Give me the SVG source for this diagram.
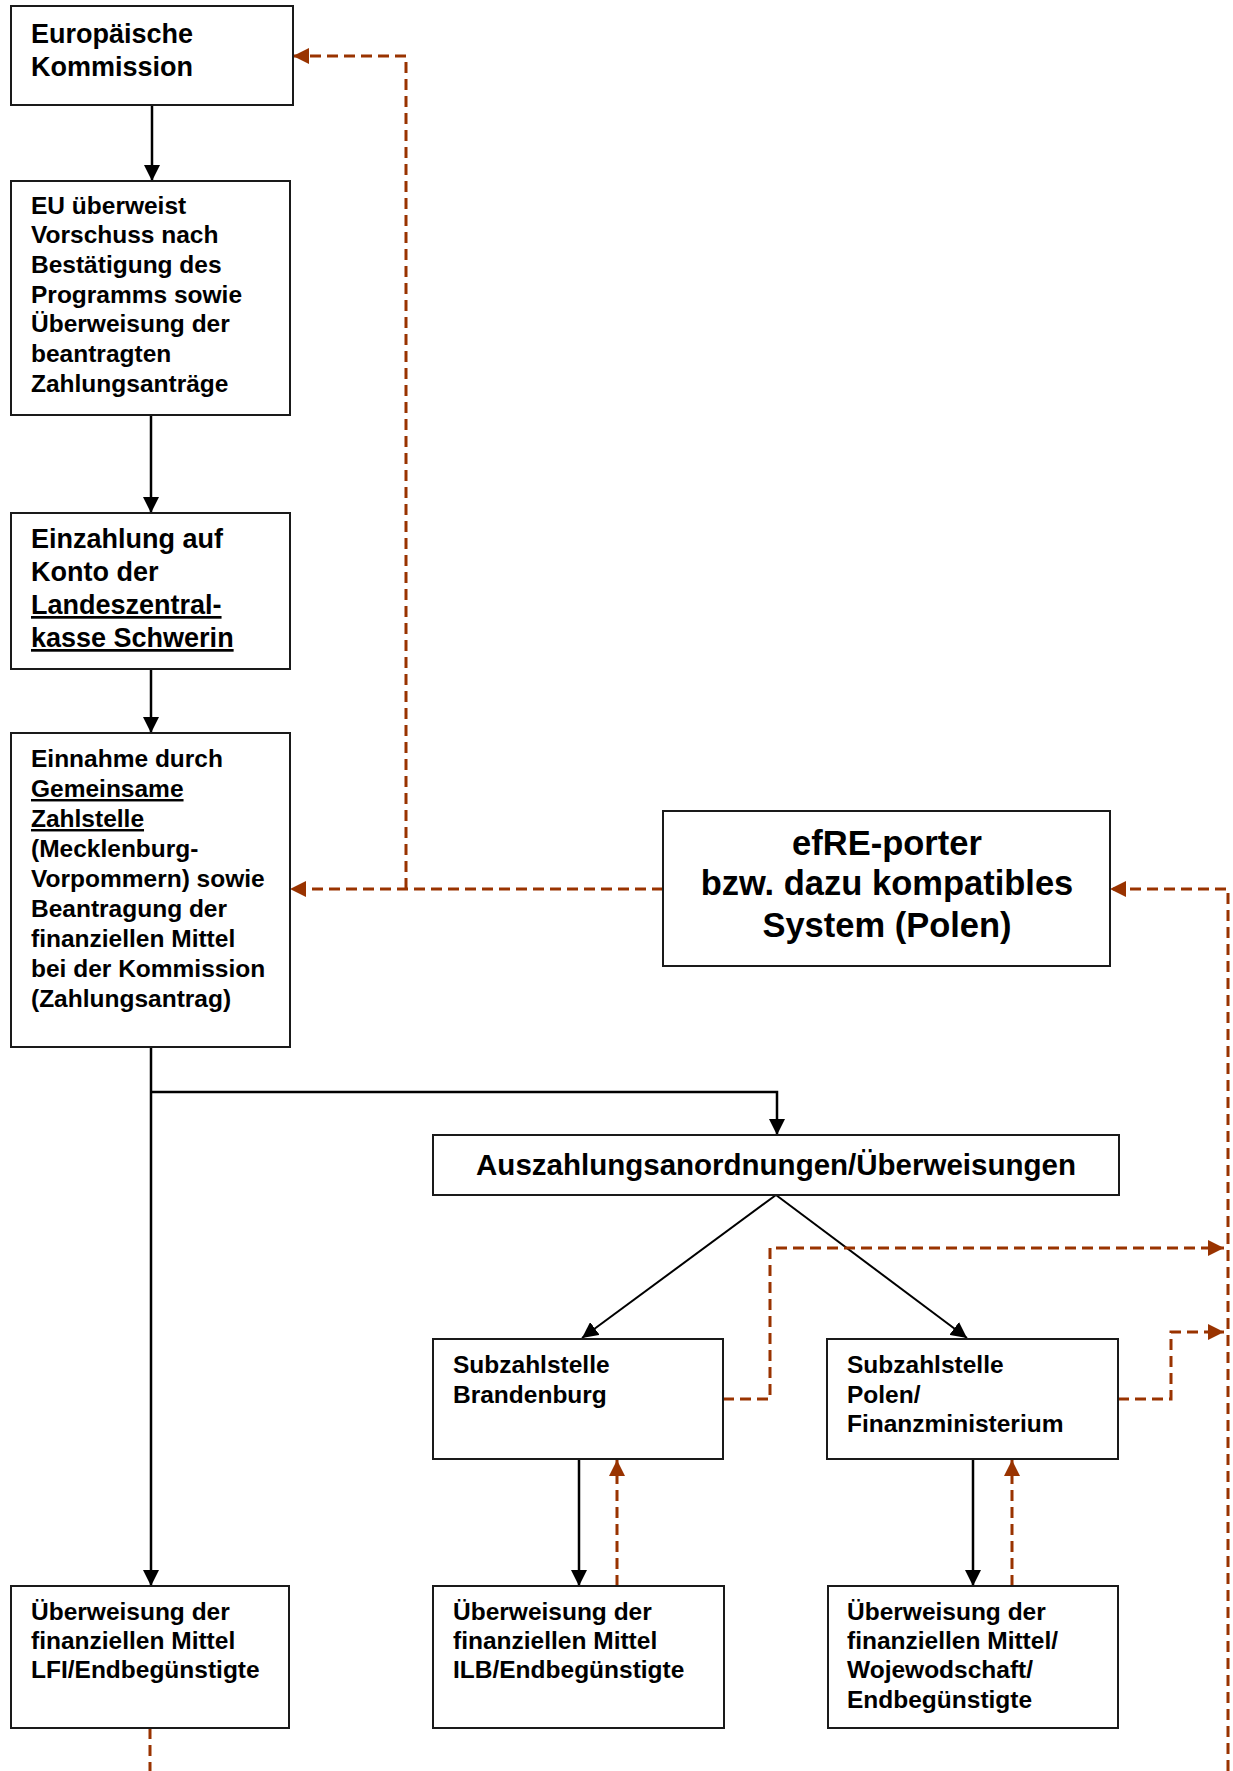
<svg xmlns="http://www.w3.org/2000/svg" width="1233" height="1771" viewBox="0 0 1233 1771">
<style>
  .box { fill: #ffffff; stroke: #1a1a1a; stroke-width: 2; }
  .t { font-family: "Liberation Sans", Arial, sans-serif; font-weight: bold; fill: #000000; }
  .s245 { font-size: 24.5px; }
  .s27 { font-size: 27px; }
  .s29 { font-size: 29.5px; }
  .s34 { font-size: 34.5px; }
  .u { text-decoration: underline; }
  .solid { fill: none; stroke: #000000; stroke-width: 2.5; }
  .diag { fill: none; stroke: #000000; stroke-width: 2; }
  .dash { fill: none; stroke: #993300; stroke-width: 3; stroke-dasharray: 11 6; }
</style>
<defs>
  <marker id="ab" markerUnits="userSpaceOnUse" markerWidth="16" markerHeight="16" viewBox="0 0 16 16" refX="16" refY="8" orient="auto">
    <path d="M0,0 L16,8 L0,16 z" fill="#000000"/>
  </marker>
  <marker id="ar" markerUnits="userSpaceOnUse" markerWidth="16" markerHeight="16" viewBox="0 0 16 16" refX="16" refY="8" orient="auto">
    <path d="M0,0 L16,8 L0,16 z" fill="#993300"/>
  </marker>
</defs>
<rect width="1233" height="1771" fill="#ffffff"/>

<g id="connectors">
  <path class="solid" d="M152,105 V181" marker-end="url(#ab)"/>
  <path class="solid" d="M151,415 V513" marker-end="url(#ab)"/>
  <path class="solid" d="M151,669 V733" marker-end="url(#ab)"/>
  <path class="solid" d="M151,1047 V1586" marker-end="url(#ab)"/>
  <path class="solid" d="M151,1092 H777 V1135" marker-end="url(#ab)"/>
  <path class="diag" d="M776,1195 L582,1338" marker-end="url(#ab)"/>
  <path class="diag" d="M776,1195 L967,1338" marker-end="url(#ab)"/>
  <path class="solid" d="M579,1459 V1586" marker-end="url(#ab)"/>
  <path class="solid" d="M973,1459 V1586" marker-end="url(#ab)"/>

  <path class="dash" d="M663,889 H290" marker-end="url(#ar)"/>
  <path class="dash" d="M406,889 V56 H293" marker-end="url(#ar)"/>
  <path class="dash" d="M1228,1771 V889 H1110" marker-end="url(#ar)"/>
  <path class="dash" d="M723,1399 H770 V1248 H1224" marker-end="url(#ar)"/>
  <path class="dash" d="M1118,1399 H1171 V1332 H1224" marker-end="url(#ar)"/>
  <path class="dash" d="M617,1586 V1460" marker-end="url(#ar)"/>
  <path class="dash" d="M1012,1586 V1460" marker-end="url(#ar)"/>
  <path class="dash" d="M150,1728 V1771"/>
</g>

<g id="europaeische-kommission">
  <rect class="box" x="11" y="6" width="282" height="99"/>
  <text class="t s27" x="31" y="43">Europäische</text>
  <text class="t s27" x="31" y="76">Kommission</text>
</g>

<g id="eu-ueberweist">
  <rect class="box" x="11" y="181" width="279" height="234"/>
  <text class="t s245" x="31" y="213.5">EU überweist</text>
  <text class="t s245" x="31" y="243.2">Vorschuss nach</text>
  <text class="t s245" x="31" y="272.9">Bestätigung des</text>
  <text class="t s245" x="31" y="302.6">Programms sowie</text>
  <text class="t s245" x="31" y="332.3">Überweisung der</text>
  <text class="t s245" x="31" y="362">beantragten</text>
  <text class="t s245" x="31" y="391.7">Zahlungsanträge</text>
</g>

<g id="einzahlung">
  <rect class="box" x="11" y="513" width="279" height="156"/>
  <text class="t s27" x="31" y="548">Einzahlung auf</text>
  <text class="t s27" x="31" y="581">Konto der</text>
  <text class="t s27 u" x="31" y="614">Landeszentral-</text>
  <text class="t s27 u" x="31" y="647">kasse Schwerin</text>
</g>

<g id="einnahme">
  <rect class="box" x="11" y="733" width="279" height="314"/>
  <text class="t s245" x="31" y="767">Einnahme durch</text>
  <text class="t s245 u" x="31" y="797">Gemeinsame</text>
  <text class="t s245 u" x="31" y="827">Zahlstelle</text>
  <text class="t s245" x="31" y="857">(Mecklenburg-</text>
  <text class="t s245" x="31" y="887">Vorpommern) sowie</text>
  <text class="t s245" x="31" y="917">Beantragung der</text>
  <text class="t s245" x="31" y="947">finanziellen Mittel</text>
  <text class="t s245" x="31" y="977">bei der Kommission</text>
  <text class="t s245" x="31" y="1007">(Zahlungsantrag)</text>
</g>

<g id="efre-porter">
  <rect class="box" x="663" y="811" width="447" height="155"/>
  <text class="t s34" x="887" y="855" text-anchor="middle">efRE-porter</text>
  <text class="t s34" x="887" y="895" text-anchor="middle">bzw. dazu kompatibles</text>
  <text class="t s34" x="887" y="937" text-anchor="middle">System (Polen)</text>
</g>

<g id="auszahlungsanordnungen">
  <rect class="box" x="433" y="1135" width="686" height="60"/>
  <text class="t s29" x="776" y="1175" text-anchor="middle">Auszahlungsanordnungen/Überweisungen</text>
</g>

<g id="subzahlstelle-brandenburg">
  <rect class="box" x="433" y="1339" width="290" height="120"/>
  <text class="t s245" x="453" y="1373">Subzahlstelle</text>
  <text class="t s245" x="453" y="1403">Brandenburg</text>
</g>

<g id="subzahlstelle-polen">
  <rect class="box" x="827" y="1339" width="291" height="120"/>
  <text class="t s245" x="847" y="1373">Subzahlstelle</text>
  <text class="t s245" x="847" y="1403">Polen/</text>
  <text class="t s245" x="847" y="1432">Finanzministerium</text>
</g>

<g id="ueberweisung-lfi">
  <rect class="box" x="11" y="1586" width="278" height="142"/>
  <text class="t s245" x="31" y="1620">Überweisung der</text>
  <text class="t s245" x="31" y="1649">finanziellen Mittel</text>
  <text class="t s245" x="31" y="1678">LFI/Endbegünstigte</text>
</g>

<g id="ueberweisung-ilb">
  <rect class="box" x="433" y="1586" width="291" height="142"/>
  <text class="t s245" x="453" y="1620">Überweisung der</text>
  <text class="t s245" x="453" y="1649">finanziellen Mittel</text>
  <text class="t s245" x="453" y="1678">ILB/Endbegünstigte</text>
</g>

<g id="ueberweisung-wojewodschaft">
  <rect class="box" x="828" y="1586" width="290" height="142"/>
  <text class="t s245" x="847" y="1620">Überweisung der</text>
  <text class="t s245" x="847" y="1649">finanziellen Mittel/</text>
  <text class="t s245" x="847" y="1678">Wojewodschaft/</text>
  <text class="t s245" x="847" y="1708">Endbegünstigte</text>
</g>
</svg>
